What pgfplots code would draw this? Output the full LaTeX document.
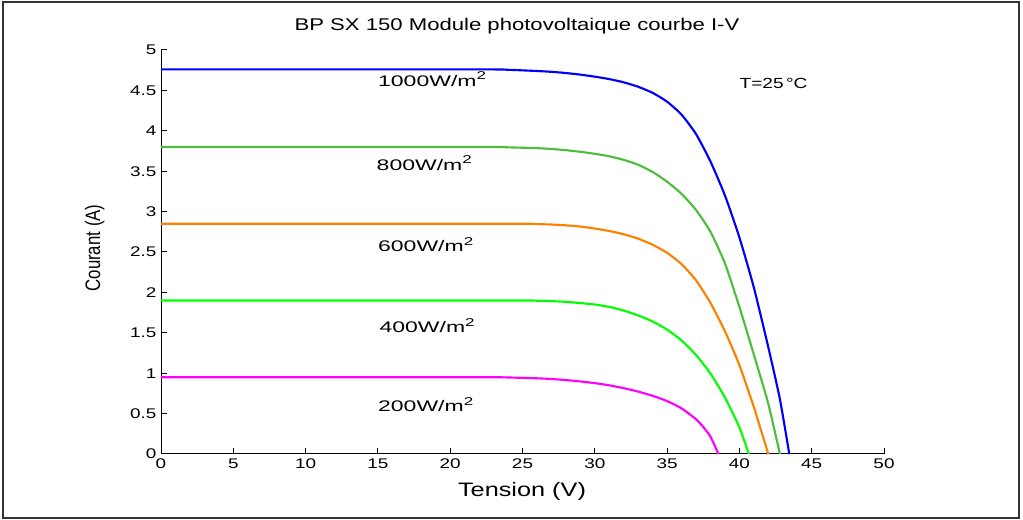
\documentclass[border=0pt]{standalone}
\usepackage{fontspec}
\setmainfont{Liberation Sans}
\newfontfamily\tfont[FakeStretch=1.3]{Liberation Sans}
\newfontfamily\kfont[FakeStretch=1.35]{Liberation Sans}
\newfontfamily\afont[FakeStretch=1.5]{Liberation Sans}
\newfontfamily\yfont[FakeStretch=0.8]{Liberation Sans}
\usepackage{pgfplots}
\pgfplotsset{compat=1.18}
\definecolor{cblue}{RGB}{0,0,255}
\definecolor{cgreenA}{RGB}{77,190,60}
\definecolor{corange}{RGB}{255,128,0}
\definecolor{cgreenB}{RGB}{0,255,0}
\definecolor{cmag}{RGB}{255,0,255}
\newcommand{\sq}{\raisebox{0.42em}{\fontsize{8.5}{9}\selectfont 2}}
\begin{document}
\begin{tikzpicture}
\useasboundingbox (0,0) rectangle (767.25pt,390pt);
\draw[line width=1.1pt, black!80] (2.25pt,1.5pt) rectangle (764.25pt,388.5pt);
\begin{axis}[
  at={(120.75pt,49.5pt)}, anchor=south west,
  scale only axis, width=542.25pt, height=303pt,
  xmin=0, xmax=50, ymin=0, ymax=5,
  axis x line=bottom, axis y line=left,
  axis line style={-, line width=0.75pt},
  tick align=inside, major tick length=4.5pt,
  tick style={black, line width=0.75pt},
  xtick={0,5,...,50}, ytick={0,0.5,1,1.5,2,2.5,3,3.5,4,4.5,5},
  /pgf/number format/assume math mode=true,
  tick label style={font=\kfont\fontsize{10.5}{12}\selectfont},
  clip=false,
  every axis plot/.append style={line width=1.6pt, smooth, tension=0.35},
]
\addplot[cblue] coordinates {(0,4.76) (22,4.76) (24,4.755) (26,4.74) (27,4.73) (28,4.715) (29,4.695) (30,4.67) (31,4.64) (32,4.60) (33,4.545) (34,4.47) (35,4.36) (36,4.20) (37,3.96) (38,3.62) (39,3.20) (40,2.68) (41,2.06) (42,1.32) (42.8,0.68) (43.45,0)};
\addplot[cgreenA] coordinates {(0,3.80) (22,3.80) (24,3.795) (26,3.785) (27,3.775) (28,3.76) (29,3.74) (30,3.715) (31,3.685) (32,3.64) (33,3.58) (34,3.49) (35,3.37) (36,3.22) (37,3.02) (38,2.75) (39,2.36) (40,1.82) (41,1.23) (42,0.62) (42.8,0)};
\addplot[corange] coordinates {(0,2.85) (24,2.85) (26,2.845) (27,2.84) (28,2.83) (29,2.815) (30,2.79) (31,2.76) (32,2.72) (33,2.665) (34,2.59) (35,2.49) (36,2.35) (37,2.15) (38,1.87) (39,1.52) (40,1.10) (41,0.58) (41.5,0.29) (42.0,0)};
\addplot[cgreenB] coordinates {(0,1.90) (24,1.90) (26,1.897) (27,1.892) (28,1.883) (29,1.868) (30,1.85) (31,1.82) (32,1.775) (33,1.715) (34,1.64) (35,1.54) (36,1.405) (37,1.225) (38,0.995) (39,0.70) (40,0.33) (40.65,0)};
\addplot[cmag] coordinates {(0,0.95) (22,0.95) (24,0.947) (26,0.937) (27,0.928) (28,0.915) (29,0.898) (30,0.877) (31,0.85) (32,0.815) (33,0.772) (34,0.72) (35,0.655) (36,0.565) (37,0.43) (37.5,0.335) (38,0.215) (38.55,0)};
\begin{scope}[every node/.style={anchor=base west, font=\afont\fontsize{11.5}{13}\selectfont, inner sep=0pt}]
\node at (axis cs:15.0,4.55) {1000W/m\sq};
\node at (axis cs:14.9,3.51) {800W/m\sq};
\node at (axis cs:15.0,2.50) {600W/m\sq};
\node at (axis cs:15.1,1.50) {400W/m\sq};
\node at (axis cs:15.0,0.52) {200W/m\sq};
\end{scope}
\node[anchor=base west, font=\tfont\fontsize{11}{13}\selectfont, inner sep=0pt] at (axis cs:40.0,4.52) {T=25\,°C};
\end{axis}
\begin{scope}[x=0.75pt, y=-0.75pt, yshift=390pt]
\node[anchor=base, font=\tfont\fontsize{12.75}{15}\selectfont, inner sep=0pt] at (517,31) {BP SX 150 Module photovoltaique courbe I-V};
\node[anchor=base, font=\tfont\fontsize{14.6}{17}\selectfont, inner sep=0pt] at (522,497) {Tension (V)};
\node[anchor=base, rotate=90, font=\yfont\fontsize{15.75}{18}\selectfont, inner sep=0pt] at (100,248) {Courant (A)};
\end{scope}
\end{tikzpicture}
\end{document}
